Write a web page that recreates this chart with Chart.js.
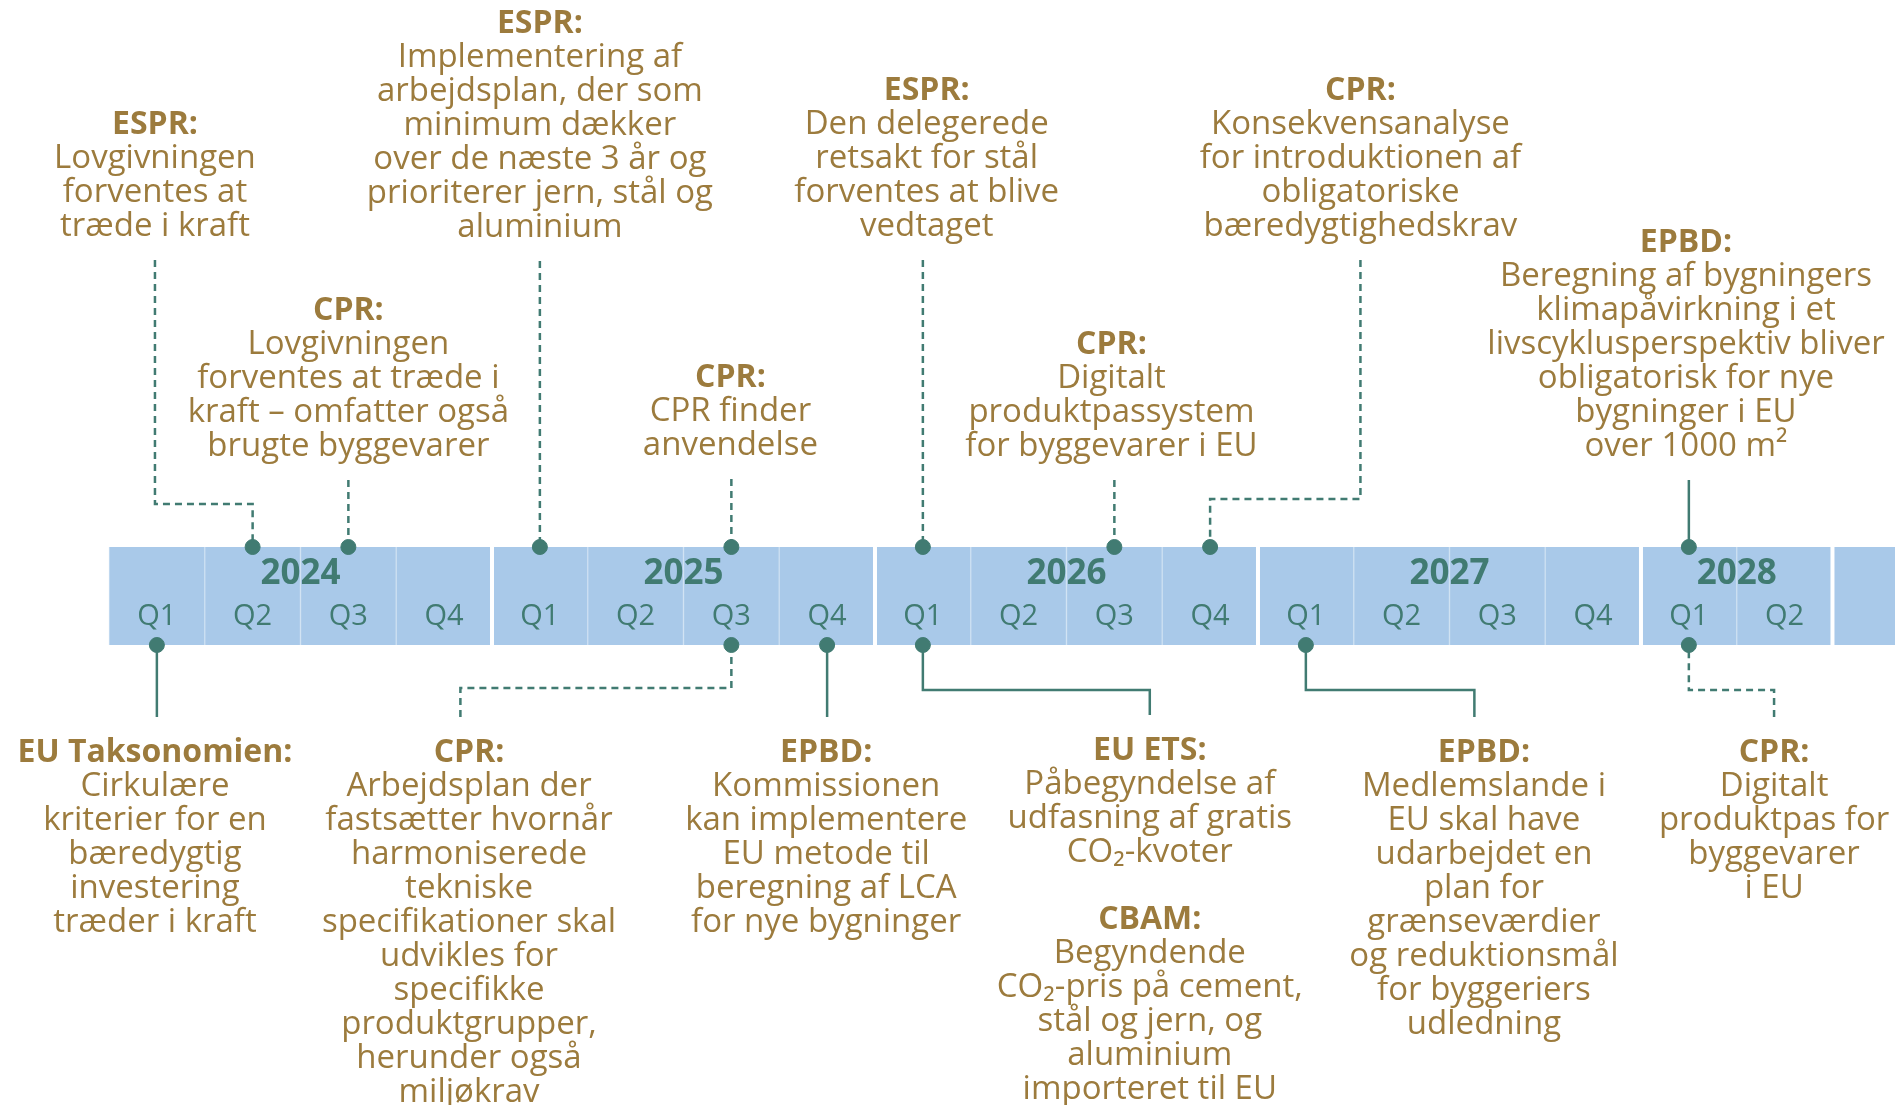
<!DOCTYPE html>
<html lang="da">
<head>
<meta charset="utf-8">
<title>Tidslinje</title>
<script src="https://cdn.jsdelivr.net/npm/chart.js@4.4.1/dist/chart.umd.min.js"></script>
<style>
  html, body { margin: 0; padding: 0; background: #ffffff; overflow: hidden; }
  #wrap { width: 1895px; height: 1105px; }
</style>
</head>
<body>
<div id="wrap"><canvas id="c" width="1895" height="1105"></canvas></div>
<script>
// ---------------- DATA ----------------
const years = ['2024', '2025', '2026', '2027', '2028'];
const quartersPerYear = [4, 4, 4, 4, 2];
const quarterLabels = ['Q1', 'Q2', 'Q3', 'Q4'];
const trailingQuarters = 1; // unlabeled continuation after 2028 Q2

// quarter index counted from 2024 Q1 = 0
const eventQuarter = [1, 2, 4, 6, 8, 10, 11, 16, 0, 6, 7, 8, 12, 16];
const eventSide = ['top', 'top', 'top', 'top', 'top', 'top', 'top', 'top',
                   'bottom', 'bottom', 'bottom', 'bottom', 'bottom', 'bottom'];
const eventTitles = [
  ['ESPR:'], ['CPR:'], ['ESPR:'], ['CPR:'], ['ESPR:'], ['CPR:'], ['CPR:'], ['EPBD:'],
  ['EU Taksonomien:'], ['CPR:'], ['EPBD:'], ['EU ETS:', 'CBAM:'], ['EPBD:'], ['CPR:']
];
const eventTexts = [
  [['Lovgivningen', 'forventes at', 'træde i kraft']],
  [['Lovgivningen', 'forventes at træde i', 'kraft – omfatter også', 'brugte byggevarer']],
  [['Implementering af', 'arbejdsplan, der som', 'minimum dækker', 'over de næste 3 år og', 'prioriterer jern, stål og', 'aluminium']],
  [['CPR finder', 'anvendelse']],
  [['Den delegerede', 'retsakt for stål', 'forventes at blive', 'vedtaget']],
  [['Digitalt', 'produktpassystem', 'for byggevarer i EU']],
  [['Konsekvensanalyse', 'for introduktionen af', 'obligatoriske', 'bæredygtighedskrav']],
  [['Beregning af bygningers', 'klimapåvirkning i et', 'livscyklusperspektiv bliver', 'obligatorisk for nye', 'bygninger i EU', 'over 1000 m²']],
  [['Cirkulære', 'kriterier for en', 'bæredygtig', 'investering', 'træder i kraft']],
  [['Arbejdsplan der', 'fastsætter hvornår', 'harmoniserede', 'tekniske', 'specifikationer skal', 'udvikles for', 'specifikke', 'produktgrupper,', 'herunder også', 'miljøkrav']],
  [['Kommissionen', 'kan implementere', 'EU metode til', 'beregning af LCA', 'for nye bygninger']],
  [['Påbegyndelse af', 'udfasning af gratis', 'CO₂-kvoter'],
   ['Begyndende', 'CO₂-pris på cement,', 'stål og jern, og', 'aluminium', 'importeret til EU']],
  [['Medlemslande i', 'EU skal have', 'udarbejdet en', 'plan for', 'grænseværdier', 'og reduktionsmål', 'for byggeriers', 'udledning']],
  [['Digitalt', 'produktpas for', 'byggevarer', 'i EU']]
];

// ---------------- LAYOUT / STYLE ----------------
const VIEW_START = -1.1384, VIEW_END = 18.653;   // x range in quarter units
const BAR_TOP = 547, BAR_BOTTOM = 645;
const YEAR_LABEL_Y = 574, QUARTER_LABEL_Y = 617;
const LINE_H = 34, BLOCK_GAP = 33, TEXT_SHIFT = 3;
const TOP_LINE_GAP = 36, BOTTOM_LINE_GAP = 33;
// text center x (quarter units), title y (px), connector style, elbow y, vertical x
const eventLayout = [
  { tx: 0.48,  ty: 122, dash: true,  elbowY: 504 },
  { tx: 2.5,   ty: 308, dash: true },
  { tx: 4.5,   ty: 21,  dash: true },
  { tx: 6.49,  ty: 375, dash: true },
  { tx: 8.54,  ty: 88,  dash: true },
  { tx: 10.47, ty: 342, dash: true },
  { tx: 13.07, ty: 88,  dash: true,  elbowY: 499 },
  { tx: 16.47, ty: 240, dash: false },
  { tx: 0.48,  ty: 750, dash: false },
  { tx: 3.76,  ty: 750, dash: true,  elbowY: 688, lx: 3.67 },
  { tx: 7.49,  ty: 750, dash: false },
  { tx: 10.87, ty: 748, dash: false, elbowY: 690 },
  { tx: 14.36, ty: 750, dash: false, elbowY: 690, lx: 14.26 },
  { tx: 17.39, ty: 750, dash: true,  elbowY: 690 }
];
const BLUE = '#a9c9e9', BLUE_SEP = '#cde0f2', TEAL = '#417b72', GOLD = '#9c7b3d';
const FONT = '"Open Sans", "Noto Sans", sans-serif';
const TEXT_SIZE = 33, TITLE_SIZE = 32, YEAR_SIZE = 35, Q_SIZE = 29;

// ---------------- BUILD DATASETS ----------------
const totalQuarters = quartersPerYear.reduce((a, b) => a + b, 0) + trailingQuarters;
const quarterBars = [];
for (let i = 0; i < totalQuarters; i++) quarterBars.push({ x: i + 0.5, y: [BAR_TOP, BAR_BOTTOM] });

// white gaps between the year blocks
const yearGaps = [];
let acc = 0;
quartersPerYear.forEach(n => {
  acc += n;
  yearGaps.push({ x: acc, y: BAR_TOP - 4 }, { x: acc, y: BAR_BOTTOM + 6 }, { x: acc, y: null });
});

function textBottom(i) {
  const L = eventLayout[i];
  const blocks = eventTexts[i];
  let y = L.ty;
  blocks.forEach((b, k) => { if (k > 0) y += LINE_H + BLOCK_GAP; y += LINE_H * b.length; });
  return y;
}

const connectorSets = [];
const dots = [];
eventQuarter.forEach((q, i) => {
  const L = eventLayout[i];
  const dx = q + 0.5;
  const top = eventSide[i] === 'top';
  const dotY = top ? BAR_TOP : BAR_BOTTOM;
  dots.push({ x: dx, y: dotY });
  const lx = L.lx !== undefined ? L.lx : (L.elbowY !== undefined ? L.tx : dx);
  const startY = top ? textBottom(i) + TOP_LINE_GAP : L.ty - BOTTOM_LINE_GAP;
  let pts;
  if (L.elbowY !== undefined) {
    pts = [{ x: lx, y: startY }, { x: lx, y: L.elbowY }, { x: dx, y: L.elbowY }, { x: dx, y: dotY }];
  } else {
    pts = [{ x: lx, y: startY }, { x: lx, y: dotY }];
  }
  connectorSets.push({
    type: 'line', data: pts, borderColor: TEAL, borderWidth: 2.5,
    borderDash: L.dash ? [7, 5] : [], pointRadius: 0, fill: false, order: 3,
    borderCapStyle: 'butt', borderJoinStyle: 'miter', tension: 0
  });
});

// ---------------- TEXT PLUGIN ----------------
const textPlugin = {
  id: 'timelineText',
  afterDatasetsDraw(chart) {
    const ctx = chart.ctx, xs = chart.scales.x, ys = chart.scales.y;
    ctx.save();
    ctx.textAlign = 'center';
    ctx.textBaseline = 'middle';
    // year + quarter labels
    let start = 0;
    years.forEach((yr, k) => {
      const n = quartersPerYear[k];
      ctx.fillStyle = TEAL;
      ctx.font = `700 ${YEAR_SIZE}px ${FONT}`;
      ctx.fillText(yr, xs.getPixelForValue(start + n / 2), ys.getPixelForValue(YEAR_LABEL_Y));
      ctx.font = `400 ${Q_SIZE}px ${FONT}`;
      for (let j = 0; j < n; j++) {
        ctx.fillText(quarterLabels[j], xs.getPixelForValue(start + j + 0.5), ys.getPixelForValue(QUARTER_LABEL_Y));
      }
      start += n;
    });
    // event texts
    ctx.fillStyle = GOLD;
    eventTexts.forEach((blocks, i) => {
      const L = eventLayout[i];
      const x = xs.getPixelForValue(L.tx);
      let y = L.ty + TEXT_SHIFT;
      blocks.forEach((lines, k) => {
        if (k > 0) y += LINE_H + BLOCK_GAP;
        ctx.font = `700 ${TITLE_SIZE}px ${FONT}`;
        ctx.fillText(eventTitles[i][k], x, ys.getPixelForValue(y));
        ctx.font = `400 ${TEXT_SIZE}px ${FONT}`;
        lines.forEach(line => { y += LINE_H; ctx.fillText(line, x, ys.getPixelForValue(y)); });
      });
    });
    ctx.restore();
  }
};

// ---------------- CHART ----------------
new Chart(document.getElementById('c'), {
  type: 'bar',
  data: {
    datasets: [
      {
        type: 'scatter', data: dots, backgroundColor: TEAL, borderColor: TEAL,
        pointRadius: 7.5, pointHoverRadius: 7.5, showLine: false, order: 1
      },
      ...connectorSets,
      {
        type: 'line', data: yearGaps, borderColor: '#ffffff', borderWidth: 4,
        pointRadius: 0, spanGaps: false, order: 4, borderCapStyle: 'butt'
      },
      {
        type: 'bar', data: quarterBars, backgroundColor: BLUE, borderColor: BLUE_SEP,
        borderWidth: { left: 1, right: 1, top: 0, bottom: 0 }, borderSkipped: false,
        barPercentage: 1, categoryPercentage: 1, grouped: false, order: 5
      }
    ]
  },
  options: {
    responsive: false,
    animation: false,
    devicePixelRatio: 1,
    layout: { padding: 0, autoPadding: false },
    plugins: { legend: { display: false }, tooltip: { enabled: false } },
    events: [],
    scales: {
      x: { type: 'linear', min: VIEW_START, max: VIEW_END, display: false,
           ticks: { stepSize: 1, includeBounds: false }, offset: false },
      y: { type: 'linear', min: 0, max: 1105, reverse: true, display: false }
    }
  },
  plugins: [textPlugin]
});
</script>
</body>
</html>
